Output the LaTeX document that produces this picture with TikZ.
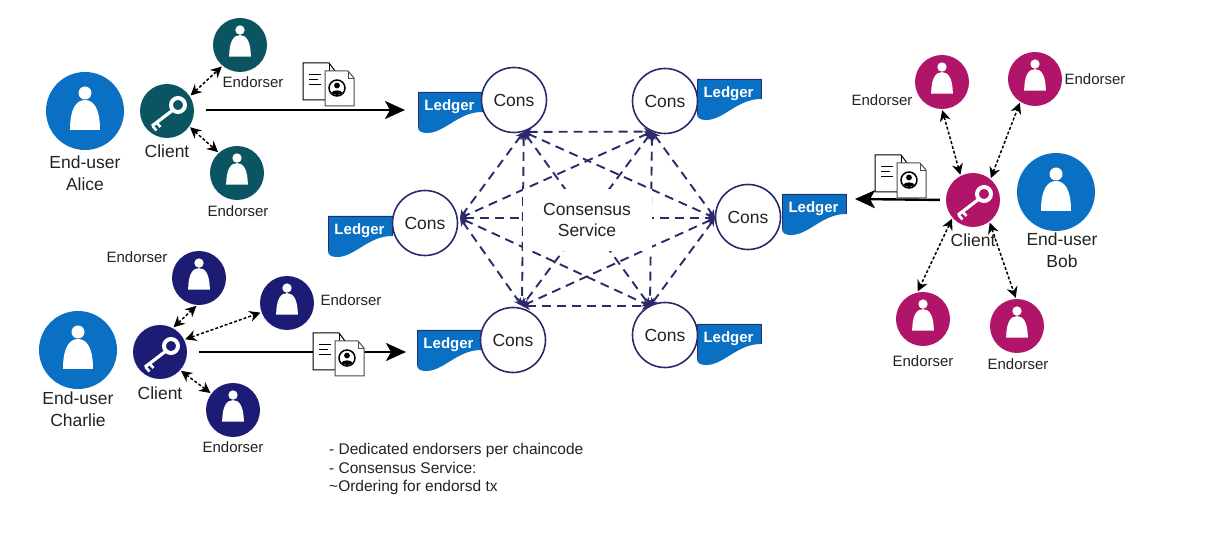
\documentclass[tikz,border=0pt]{standalone}
\usepackage{fontspec}
\setmainfont{Liberation Sans}
\usetikzlibrary{arrows.meta}
\definecolor{usercol}{HTML}{0A70C4}
\definecolor{tealcol}{HTML}{0B5563}
\definecolor{plumcol}{HTML}{B0156A}
\definecolor{navycol}{HTML}{1C1C74}
\definecolor{meshcol}{HTML}{2B2A6B}
\definecolor{textcol}{HTML}{222222}
\tikzset{
  txt/.style = {text=textcol, inner sep=0pt, align=center,
    font=\fontsize{17.5}{21.5}\selectfont},
  txts/.style = {txt, font=\fontsize{15}{18.5}\selectfont},
  user/.style = {circle, fill=usercol, minimum size=78pt, inner sep=0pt},
  peer/.style = {circle, fill=#1, minimum size=54pt, inner sep=0pt},
  cons/.style = {txt, circle, draw=meshcol, fill=white, line width=1.6pt,
    minimum size=65pt},
  flow/.style = {line width=2.4pt, black, shorten <=12pt,
    -{Stealth[length=20pt,width=18pt,inset=5pt]}},
  talk/.style = {line width=1.5pt, black, dash pattern=on 3pt off 2pt,
    shorten <=1pt, shorten >=1pt,
    {Stealth[length=11pt,width=11pt]}-{Stealth[length=11pt,width=11pt]}},
  mesh/.style = {line width=1.9pt, meshcol, dash pattern=on 9pt off 6pt,
    {Stealth[length=8pt,width=8pt]}-{Stealth[length=8pt,width=8pt]}},
  pics/person/.style = {code={
    \fill [white] (0,-18) circle (6.5pt);
    \fill [white] (-15,19) .. controls (-15,-2) and (-9,-11) .. (0,-11)
      .. controls (9,-11) and (15,-2) .. (15,19) -- cycle;
  }},
  pics/key/.style = {code={
    \draw [white, line width=4pt] (11,-6) circle (7pt);
    \draw [white, line width=3.2pt] (6,-1) -- (-15,15);
    \draw [white, line width=2.6pt] (-10.5,11.5) -- (-6.5,16);
    \draw [white, line width=2.6pt] (-14.5,15) -- (-10.5,19.5);
  }},
  pics/ledger/.style = {code={
    \fill [usercol] (0,0) -- (64,0) -- (64,20)
      .. controls (40,20) and (27,41) .. (9,41)
      .. controls (3,41) and (0,39) .. (0,35) -- cycle;
    \draw [meshcol, line width=.8pt] (0,35) -- (0,0) -- (64,0) -- (64,20);
    \node (-label) at (31.5,14.5) [white, inner sep=0pt,
      font=\fontsize{15}{18}\selectfont\bfseries] {Ledger};
  }},
  pics/docs/.style = {code={
    \draw [black, fill=white, line width=1pt]
      (0,0) -- (26,0) -- (32,8) -- (32,37) -- (0,37) -- cycle;
    \draw [black, line width=.7pt] (26,0) -- (26,8) -- (32,8);
    \draw [black, line width=1pt] (6,12) -- (18,12);
    \draw [black, line width=1pt] (6,17) -- (15,17);
    \draw [black, line width=1pt] (6,22) -- (18,22);
    \draw [black!70, fill=white, line width=1pt]
      (22,8) -- (45,8) -- (51,15) -- (51,43) -- (22,43) -- cycle;
    \draw [black!70, line width=.7pt] (45,8) -- (45,15) -- (51,15);
    \draw [black, fill=white, line width=1.5pt] (34,25) circle (8pt);
    \fill [black] (34,22.5) circle (2.9pt);
    \fill [black] (28.5,30) .. controls (29,26.5) and (39,26.5) .. (39.5,30)
      .. controls (37,32.5) and (31,32.5) .. (28.5,30) -- cycle;
  }}
}
\begin{document}
\begin{tikzpicture}[x=1pt,y=-1pt]
\useasboundingbox (0,0) rectangle (1216,537);

% ledgers go under the cons circles
\pic (ledgerTL) at (418,92) {ledger};
\pic (ledgerTR) at (697,79) {ledger};
\pic (ledgerL) at (328,216) {ledger};
\pic (ledgerR) at (782,194) {ledger};
\pic (ledgerBL) at (417,330) {ledger};
\pic (ledgerBR) at (697,324) {ledger};

\node [cons] (consTL) at (514,100) {Cons};
\node [cons] (consTR) at (665,101) {Cons};
\node [cons] (consL) at (425,223) {Cons};
\node [cons] (consR) at (748,217) {Cons};
\node [cons] (consBL) at (513,340) {Cons};
\node [cons] (consBR) at (665,335) {Cons};

\coordinate (hubTL) at (consTL.-73);
\coordinate (hubTR) at (consTR.-113);
\coordinate (hubL) at (460,218);
\coordinate (hubR) at (715,218);
\coordinate (hubBL) at (522,306);
\coordinate (hubBR) at (650,306);

\draw [mesh] (hubTL) -- (hubTR);
\draw [mesh] (hubTL) -- (hubL);
\draw [mesh] (hubTL) -- (hubR);
\draw [mesh] (hubTL) -- (hubBL);
\draw [mesh] (hubTL) -- (hubBR);
\draw [mesh] (hubTR) -- (hubL);
\draw [mesh] (hubTR) -- (hubR);
\draw [mesh] (hubTR) -- (hubBL);
\draw [mesh] (hubTR) -- (hubBR);
\draw [mesh] (hubL) -- (hubR);
\draw [mesh] (hubL) -- (hubBL);
\draw [mesh] (hubL) -- (hubBR);
\draw [mesh] (hubR) -- (hubBL);
\draw [mesh] (hubR) -- (hubBR);
\draw [mesh] (hubBL) -- (hubBR);
\node [txt, fill=white, minimum width=129pt, minimum height=62pt] (service)
  at (587,220) {Consensus\\Service};

% Alice
\node [user] (userA) at (85,111) {};
\pic at (userA) {person};
\node [txt] (nameA) at (85,173) {End-user\\Alice};
\node [peer=tealcol] (clientA) at (167,111) {};
\pic at (clientA) {key};
\node [txt] (clientAtxt) at (167,151) {Client};
\node [peer=tealcol] (endA1) at (240,45) {};
\pic [scale=.72] at ([yshift=2pt]endA1) {person};
\node [txts] (endA1txt) at (253,82) {Endorser};
\node [peer=tealcol] (endA2) at (237,173) {};
\pic [scale=.72] at ([yshift=2pt]endA2) {person};
\node [txts] (endA2txt) at (238,211) {Endorser};
\draw [talk] (clientA.33) -- (endA1.-130);
\draw [talk] (clientA.-35) -- (endA2.132);
\coordinate (inA) at (405,110);
\draw [flow] (clientA.east |- inA) -- (inA);
\pic at (303,63) {docs};

% Charlie
\node [user] (userC) at (78,350) {};
\pic at (userC) {person};
\node [txt] (nameC) at (78,409) {End-user\\Charlie};
\node [peer=navycol] (clientC) at (160,352) {};
\pic at (clientC) {key};
\node [txt] (clientCtxt) at (160,393) {Client};
\node [peer=navycol] (endC1) at (199,278) {};
\pic [scale=.72] at ([yshift=2pt]endC1) {person};
\node [txts] (endC1txt) at (137,257) {Endorser};
\node [peer=navycol] (endC2) at (287,303) {};
\pic [scale=.72] at ([yshift=2pt]endC2) {person};
\node [txts] (endC2txt) at (351,300) {Endorser};
\node [peer=navycol] (endC3) at (233,410) {};
\pic [scale=.72] at ([yshift=2pt]endC3) {person};
\node [txts] (endC3txt) at (233,447) {Endorser};
\draw [talk] (clientC.62) -- (endC1.-94);
\draw [talk] (clientC.27) -- (endC2.200);
\draw [talk] (clientC.-42) -- (endC3.143);
\coordinate (inC) at (406,352);
\draw [flow] (clientC.east) -- (inC);
\pic at (313,333) {docs};

% Bob
\node [user] (userB) at (1056,192) {};
\pic at (userB) {person};
\node [txt] (nameB) at (1062,250) {End-user\\Bob};
\node [peer=plumcol] (clientB) at (973,200) {};
\pic at (clientB) {key};
\node [txt] (clientBtxt) at (973,240) {Client};
\node [peer=plumcol] (endB1) at (942,82) {};
\pic [scale=.72] at ([yshift=2pt]endB1) {person};
\node [txts] (endB1txt) at (882,100) {Endorser};
\node [peer=plumcol] (endB2) at (1035,79) {};
\pic [scale=.72] at ([yshift=2pt]endB2) {person};
\node [txts] (endB2txt) at (1095,79) {Endorser};
\node [peer=plumcol] (endB3) at (923,319) {};
\pic [scale=.72] at ([yshift=2pt]endB3) {person};
\node [txts] (endB3txt) at (923,361) {Endorser};
\node [peer=plumcol] (endB4) at (1017,326) {};
\pic [scale=.72] at ([yshift=2pt]endB4) {person};
\node [txts] (endB4txt) at (1018,364) {Endorser};
\draw [talk] (clientB.117) -- (endB1.-90);
\draw [talk] (clientB.50) -- (endB2.-123);
\draw [talk] (clientB.-139) -- (endB3.102);
\draw [talk] (clientB.-53) -- (endB4.92);
\coordinate (inB) at (855,199);
\draw [flow, shorten <=6pt] (clientB.west) -- (inB);
\pic at (875,155) {docs};

\node [txts, font=\fontsize{15.5}{18.5}\selectfont, anchor=north west, align=left]
  (notes) at (329,443.5)
  {- Dedicated endorsers per chaincode\\- Consensus Service:\\\textasciitilde Ordering for endorsd tx};
\end{tikzpicture}
\end{document}
